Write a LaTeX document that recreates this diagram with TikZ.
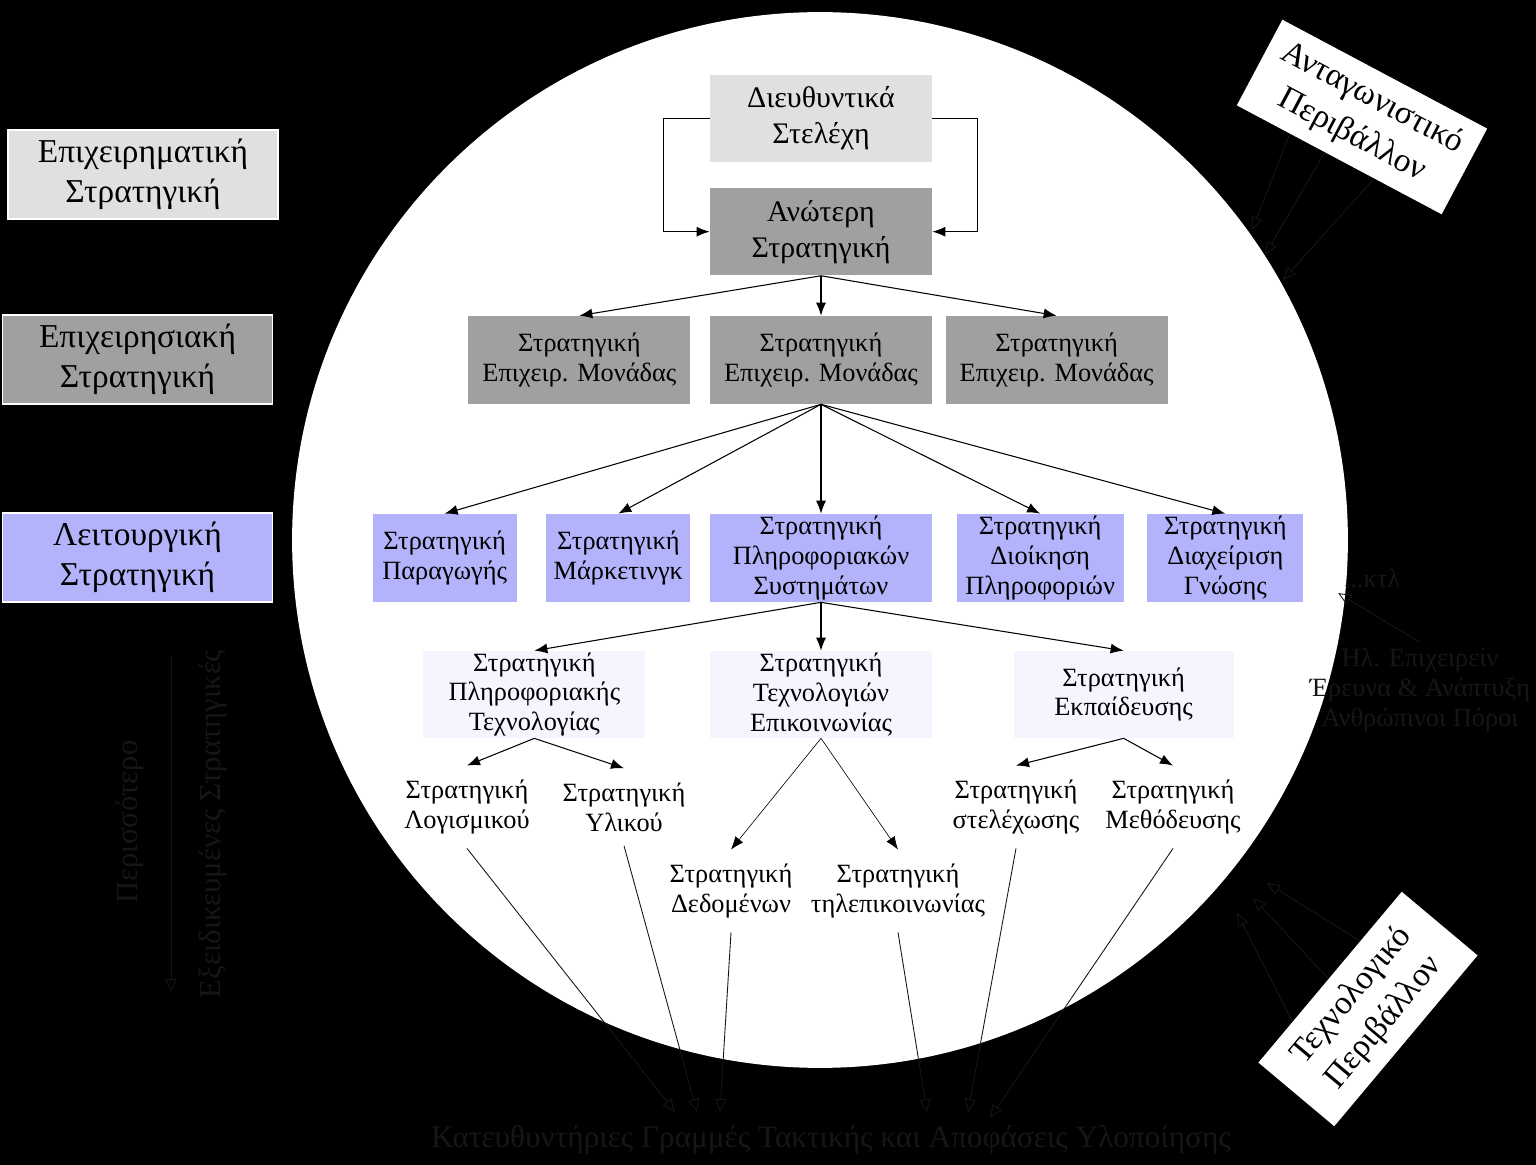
\documentclass[tikz,border=0pt]{standalone}
\usepackage{fontspec}
\setmainfont{Liberation Serif}
\usetikzlibrary{shapes,arrows,arrows.meta,positioning,calc}
\definecolor{Pale}{RGB}{224,224,224}
\definecolor{Mid}{RGB}{160,160,160}
\definecolor{Lilac}{RGB}{179,179,252}
\definecolor{Mist}{RGB}{245,245,255}
\definecolor{Shade}{RGB}{22,22,22}
\tikzstyle{Box} = [rectangle, inner sep=0pt, align=center, font={\fontsize{15}{17}\selectfont}]
\tikzstyle{Level} = [Box, draw=white, line width=0.8pt, minimum width=5.4cm, minimum height=1.78cm, font={\fontsize{19}{23}\selectfont}]
\tikzstyle{Exec} = [Box, minimum width=4.44cm, minimum height=1.75cm, font={\fontsize{17}{20.5}\selectfont}]
\tikzstyle{Unit} = [Box, fill=Mid, minimum width=4.44cm, minimum height=1.76cm]
\tikzstyle{Func} = [Box, fill=Lilac, minimum height=1.76cm]
\tikzstyle{Sub} = [Box, fill=Mist, minimum width=4.44cm, minimum height=1.74cm]
\tikzstyle{Leaf} = [Box, inner sep=8pt]
\tikzstyle{Env} = [Box, fill=white, font={\fontsize{19}{24}\selectfont}]
\tikzstyle{Hidden} = [Box, text=Shade, inner sep=3pt]
\tikzstyle{Link} = [draw, line width=0.6pt, -{Latex[length=2.6mm,width=2mm]}]
\tikzstyle{Thin} = [draw, line width=0.35pt, -{Latex[length=2.6mm,width=2mm]}]
\tikzstyle{Faint} = [draw=Shade, line width=0.5pt, -{Triangle[open,length=2.6mm,width=2.2mm]}]

\begin{document}
\begin{tikzpicture}[x=0.02cm,y=-0.02cm]
    \fill[black] (0,0) rectangle (1536,1165);
    \fill[white] (820,540) circle [radius=10.56cm];

    % levels on the left
    \node[Level, fill=Pale]  (level1) at (143,174.5)   {Επιχειρηματική\\Στρατηγική};
    \node[Level, fill=Mid]   (level2) at (137.5,359.5) {Επιχειρησιακή\\Στρατηγική};
    \node[Level, fill=Lilac] (level3) at (137.5,557.5) {Λειτουργική\\Στρατηγική};

    % hierarchy
    \node[Exec, fill=Pale] (exec)  at (821,118.5)          {Διευθυντικά\\Στελέχη};
    \node[Exec, fill=Mid]  (upper) [below=0.5cm of exec]   {Ανώτερη\\Στρατηγική};
    \node[Unit] (unitB) at (821,360)                {Στρατηγική\\Επιχειρ. Μονάδας};
    \node[Unit] (unitA) [left=0.38cm of unitB]      {Στρατηγική\\Επιχειρ. Μονάδας};
    \node[Unit] (unitC) [right=0.26cm of unitB]     {Στρατηγική\\Επιχειρ. Μονάδας};
    \node[Func, minimum width=4.44cm] (infsys)  at (821,558)             {Στρατηγική\\Πληροφοριακών\\Συστημάτων};
    \node[Func, minimum width=2.88cm] (mark)    [left=0.38cm of infsys]  {Στρατηγική\\Μάρκετινγκ};
    \node[Func, minimum width=2.88cm] (prod)    [left=0.58cm of mark]    {Στρατηγική\\Παραγωγής};
    \node[Func, minimum width=3.34cm] (infmgmt) [right=0.48cm of infsys] {Στρατηγική\\Διοίκηση\\Πληροφοριών};
    \node[Func, minimum width=3.12cm] (know)    [right=0.46cm of infmgmt] {Στρατηγική\\Διαχείριση\\Γνώσης};
    \node[Sub] (comtech) at (821,694.5)            {Στρατηγική\\Τεχνολογιών\\Επικοινωνίας};
    \node[Sub] (itech)   [left=1.28cm of comtech]  {Στρατηγική\\Πληροφοριακής\\Τεχνολογίας};
    \node[Sub, minimum width=4.4cm] (train) [right=1.62cm of comtech] {Στρατηγική\\Εκπαίδευσης};
    \node[Leaf] (soft)   at (467,807)  {Στρατηγική\\Λογισμικού};
    \node[Leaf] (hard)   at (624,807)  {Στρατηγική\\Υλικού};
    \node[Leaf] (data)   at (731,891)  {Στρατηγική\\Δεδομένων};
    \node[Leaf] (tele)   at (898,891)  {Στρατηγική\\τηλεπικοινωνίας};
    \node[Leaf] (staff)  at (1016,807) {Στρατηγική\\στελέχωσης};
    \node[Leaf] (method) at (1173,807) {Στρατηγική\\Μεθόδευσης};

    % environment
    \node[Env, rotate=-28, minimum width=4.64cm, minimum height=1.94cm] (comp) at (1362,117)  {Ανταγωνιστικό\\Περιβάλλον};
    \node[Env, rotate=50,  minimum width=4.46cm, minimum height=1.98cm] (tech) at (1368,1009) {Τεχνολογικό\\Περιβάλλον};

    % texts on the black
    \node[Hidden] (etc)   at (1372,578) {...κτλ};
    \node[Hidden] (other) at (1420,690) {Ηλ. Επιχειρείν\\Έρευνα \& Ανάπτυξη\\Ανθρώπινοι Πόροι};
    \node[Hidden, rotate=90, font={\fontsize{17.5}{20}\selectfont}] (more) at (130,822) {Περισσότερο};
    \node[Hidden, rotate=90, font={\fontsize{17.5}{20}\selectfont}] (spec) at (213,824) {Εξειδικευμένες Στρατηγικές};
    \node[Hidden, font={\fontsize{17.8}{20}\selectfont}] (guide) at (831,1140) {Κατευθυντήριες Γραμμές Τακτικής και Αποφάσεις Υλοποίησης};

    \coordinate (top)  at (171,655);
    \coordinate (foot) at (171,992);
    \coordinate (c1) at (1252,230);
    \coordinate (c2) at (1265,255);
    \coordinate (c3) at (1283,280);
    \coordinate (t1) at (1237,913);
    \coordinate (t2) at (1253,898);
    \coordinate (t3) at (1267,883);
    \coordinate (b1) at (675,1112);
    \coordinate (b2) at (697,1112);
    \coordinate (b3) at (720,1112);
    \coordinate (b4) at (927,1112);
    \coordinate (b5) at (968,1112);
    \coordinate (b6) at (990,1118);

    % connectors
    \draw[Link] (exec.west) -- ++(-46,0) |- (upper.west);
    \draw[Link] (exec.east) -- ++(45,0) |- (upper.east);
    \foreach \n in {unitA,unitB,unitC}
        \draw[Link] (upper.south) -- (\n.north);
    \foreach \n in {prod,mark,infsys,infmgmt,know}
        \draw[Link] (unitB.south) -- (\n.north);
    \foreach \n in {itech,comtech,train}
        \draw[Link] (infsys.south) -- (\n.north);
    \draw[Link] (itech.south) -- (soft.north);
    \draw[Link] (itech.south) -- (hard.north);
    \draw[Thin] (comtech.south) -- (data.north);
    \draw[Thin] (comtech.south) -- (tele.north);
    \draw[Link] (train.south) -- (staff.north);
    \draw[Link] (train.south) -- (method.north);

    \draw[Faint] (soft.south)   -- (b1);
    \draw[Faint] (hard.south)   -- (b2);
    \draw[Faint] (data.south)   -- (b3);
    \draw[Faint] (tele.south)   -- (b4);
    \draw[Faint] (staff.south)  -- (b5);
    \draw[Faint] (method.south) -- (b6);

    \draw[Faint] ($(comp.south west)!0.26!(comp.south east)$) -- (c1);
    \draw[Faint] ($(comp.south west)!0.43!(comp.south east)$) -- (c2);
    \draw[Faint] ($(comp.south west)!0.67!(comp.south east)$) -- (c3);
    \draw[Faint] ($(tech.north west)!0.24!(tech.north east)$) -- (t1);
    \draw[Faint] ($(tech.north west)!0.49!(tech.north east)$) -- (t2);
    \draw[Faint] ($(tech.north west)!0.71!(tech.north east)$) -- (t3);
    \draw[Faint] (other.north) -- (etc.south west);
    \draw[Faint] (top) -- (foot);
  \end{tikzpicture}
\end{document}
